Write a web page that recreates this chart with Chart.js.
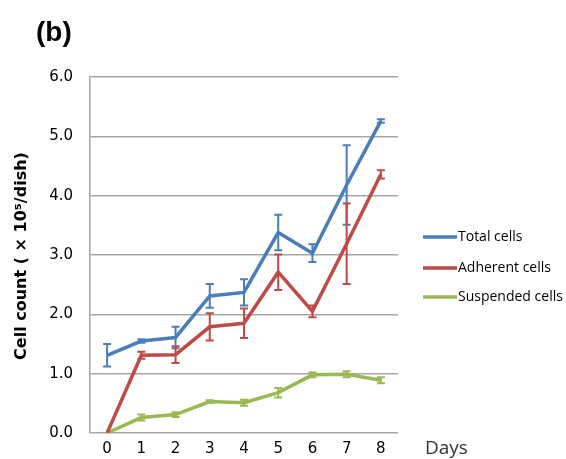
<!DOCTYPE html>
<html>
<head>
<meta charset="utf-8">
<script src="https://cdn.jsdelivr.net/npm/chart.js@4"></script>
<style>
  html, body { margin: 0; padding: 0; background: #fff; }
  #wrap { width: 566px; height: 459px; }
</style>
</head>
<body>
<div id="wrap"><canvas id="c" width="566" height="459"></canvas></div>
<script>
// Days of culture
const days = ['0', '1', '2', '3', '4', '5', '6', '7', '8'];

// Cell counts (x10^5 per dish) and their standard deviations
const totalCells = [1.31, 1.55, 1.61, 2.31, 2.37, 3.38, 3.03, 4.18, 5.26];
const totalErr   = [0.19, 0.03, 0.18, 0.20, 0.22, 0.30, 0.15, 0.67, 0.03];

const adherentCells = [0.00, 1.31, 1.32, 1.79, 1.85, 2.71, 2.05, 3.19, 4.36];
const adherentErr   = [0.00, 0.06, 0.14, 0.23, 0.25, 0.30, 0.10, 0.68, 0.07];

const suspendedCells = [0.00, 0.26, 0.31, 0.53, 0.51, 0.68, 0.98, 0.99, 0.89];
const suspendedErr   = [0.00, 0.05, 0.04, 0.02, 0.05, 0.08, 0.04, 0.05, 0.05];

const yTicks = [0, 1, 2, 3, 4, 5, 6];

const BLUE = '#4a7ebb';
const RED = '#be4b48';
const GREEN = '#98b954';

// Vertical error bars with caps, drawn from each dataset's "errors" array
const errorBars = {
  id: 'errorBars',
  afterDatasetsDraw(chart) {
    const ctx = chart.ctx;
    const y = chart.scales.y;
    chart.data.datasets.forEach((ds, i) => {
      const meta = chart.getDatasetMeta(i);
      ctx.save();
      ctx.strokeStyle = ds.borderColor;
      ctx.lineWidth = 2;
      meta.data.forEach((pt, j) => {
        const e = ds.errors[j];
        if (!e) return;
        const v = ds.data[j];
        const yt = y.getPixelForValue(v + e);
        const yb = y.getPixelForValue(v - e);
        const x = pt.x;
        ctx.beginPath();
        ctx.moveTo(x, yt); ctx.lineTo(x, yb);
        ctx.moveTo(x - 4, yt); ctx.lineTo(x + 4, yt);
        ctx.moveTo(x - 4, yb); ctx.lineTo(x + 4, yb);
        ctx.stroke();
      });
      ctx.restore();
    });
  }
};

// Panel letter, axis titles and the legend
const annotations = {
  id: 'annotations',
  afterDraw(chart) {
    const ctx = chart.ctx;
    ctx.save();
    ctx.fillStyle = '#000';
    ctx.textBaseline = 'middle';

    ctx.font = 'bold 28px "Liberation Sans", Arial, sans-serif';
    ctx.textAlign = 'left';
    ctx.fillText('(b)', 36, 33);

    ctx.font = '19px "Open Sans", sans-serif';
    ctx.fillStyle = '#333';
    ctx.fillText('Days', 425, 449);

    ctx.save();
    ctx.fillStyle = '#000';
    ctx.translate(22, 256);
    ctx.rotate(-Math.PI / 2);
    ctx.textAlign = 'center';
    ctx.font = 'bold 16px "DejaVu Sans", sans-serif';
    ctx.fillText('Cell count ( \u00d7 10\u2075/dish)', 0, 0);
    ctx.restore();

    const rows = [237, 268, 297];
    ctx.font = '14px "Open Sans", sans-serif';
    ctx.fillStyle = '#000';
    chart.data.datasets.forEach((ds, i) => {
      const yy = rows[i];
      ctx.strokeStyle = ds.borderColor;
      ctx.lineWidth = 3.5;
      ctx.beginPath();
      ctx.moveTo(423, yy); ctx.lineTo(457, yy);
      ctx.stroke();
      ctx.fillText(ds.label, 458, yy);
    });
    ctx.restore();
  }
};

new Chart(document.getElementById('c'), {
  type: 'line',
  data: {
    labels: days,
    datasets: [
      { label: 'Total cells', data: totalCells, errors: totalErr, borderColor: BLUE },
      { label: 'Adherent cells', data: adherentCells, errors: adherentErr, borderColor: RED },
      { label: 'Suspended cells', data: suspendedCells, errors: suspendedErr, borderColor: GREEN }
    ].map(d => Object.assign(d, {
      borderWidth: 3.5,
      pointRadius: 0,
      tension: 0,
      fill: false
    }))
  },
  options: {
    responsive: false,
    animation: false,
    layout: { padding: { left: 0, top: 77, right: 168, bottom: 0 } },
    plugins: { legend: { display: false }, tooltip: { enabled: false } },
    scales: {
      x: {
        offset: true,
        grid: { display: false, drawTicks: false },
        border: { display: false },
        ticks: { padding: 7, color: '#000', font: { family: '"DejaVu Sans", sans-serif', size: 15 } },
        afterFit(s) { s.height = 26; }
      },
      y: {
        min: 0,
        max: 6,
        afterBuildTicks(s) { s.ticks = yTicks.map(v => ({ value: v })); },
        grid: { color: '#a6a6a6', lineWidth: 1.5, drawTicks: false },
        border: { display: true, color: '#a6a6a6', width: 1.5 },
        ticks: {
          padding: 17,
          color: '#000',
          font: { family: '"DejaVu Sans", sans-serif', size: 15 },
          callback: v => Number(v).toFixed(1)
        },
        afterFit(s) { s.width = 90; }
      }
    }
  },
  plugins: [errorBars, annotations]
});
</script>
</body>
</html>
